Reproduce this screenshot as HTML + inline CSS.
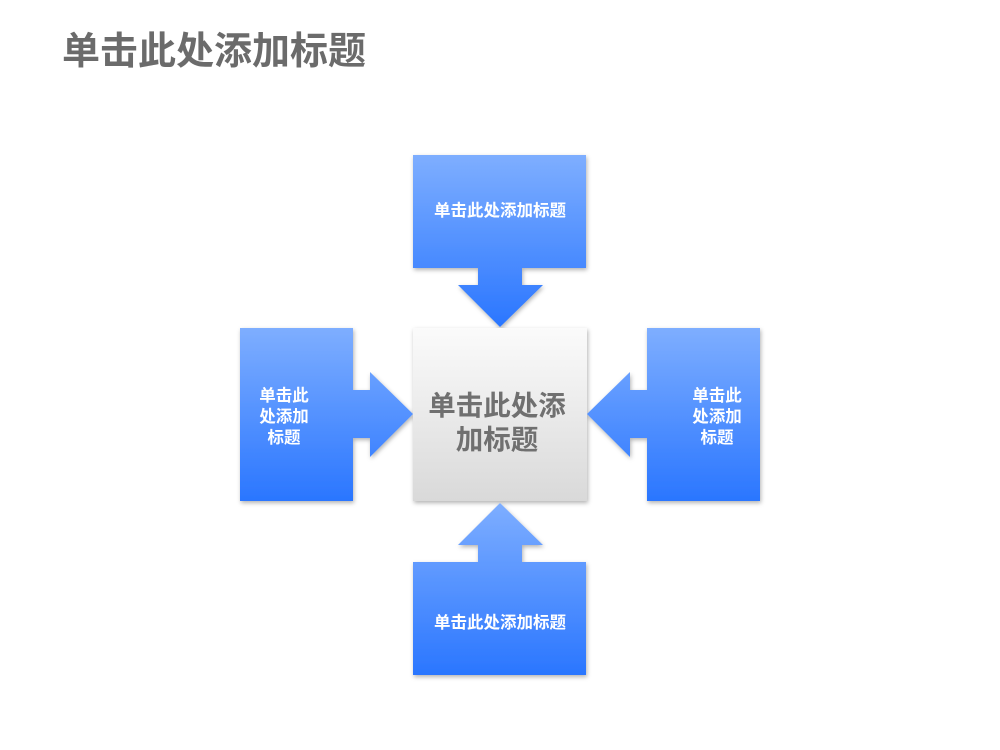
<!DOCTYPE html>
<html><head><meta charset="utf-8"><style>
html,body{margin:0;padding:0;background:#fff;width:1000px;height:750px;overflow:hidden}
svg{position:absolute;left:0;top:0}
</style></head><body>
<svg width="1000" height="750" xmlns="http://www.w3.org/2000/svg" font-family="Liberation Sans, Noto Sans CJK SC, sans-serif">
<defs>
<linearGradient id="bv" x1="0" y1="0" x2="0" y2="1"><stop offset="0" stop-color="#7eaeff"/><stop offset="1" stop-color="#2a76ff"/></linearGradient>
<linearGradient id="gv" x1="0" y1="0" x2="0" y2="1"><stop offset="0" stop-color="#fbfbfb"/><stop offset="1" stop-color="#d9d9d9"/></linearGradient>
<filter id="sh" x="-10%" y="-10%" width="130%" height="130%"><feDropShadow dx="1" dy="2" stdDeviation="2" flood-color="#000" flood-opacity="0.3"/></filter>
</defs>
<text x="62" y="64" font-size="38" font-weight="bold" fill="#6b6b6b">单击此处添加标题</text>
<g filter="url(#sh)">
<path d="M413 155H586V268H522V285H543L500 327L458 285H478V268H413Z" fill="url(#bv)"/>
<path d="M240 328H353V390H370V372L413 414L370 457V438H353V501H240Z" fill="url(#bv)"/>
<path d="M760 328H647V390H630V372L587 414L630 457V438H647V501H760Z" fill="url(#bv)"/>
<path d="M413 675H586V562H522V545H543L500 503L458 545H478V562H413Z" fill="url(#bv)"/>
<rect x="413" y="328" width="174" height="173" fill="url(#gv)"/>
</g>
<g fill="#fff" font-weight="bold" font-size="16.5" text-anchor="middle">
<text x="500" y="216">单击此处添加标题</text>
<text x="500" y="628">单击此处添加标题</text>
<text x="284" y="401">单击此</text><text x="284" y="422">处添加</text><text x="284" y="443">标题</text>
<text x="717" y="401">单击此</text><text x="717" y="422">处添加</text><text x="717" y="443">标题</text>
</g>
<g fill="#707070" font-weight="bold" font-size="27.5" text-anchor="middle">
<text x="497" y="415">单击此处添</text><text x="497" y="449">加标题</text>
</g>
</svg>
</body></html>
